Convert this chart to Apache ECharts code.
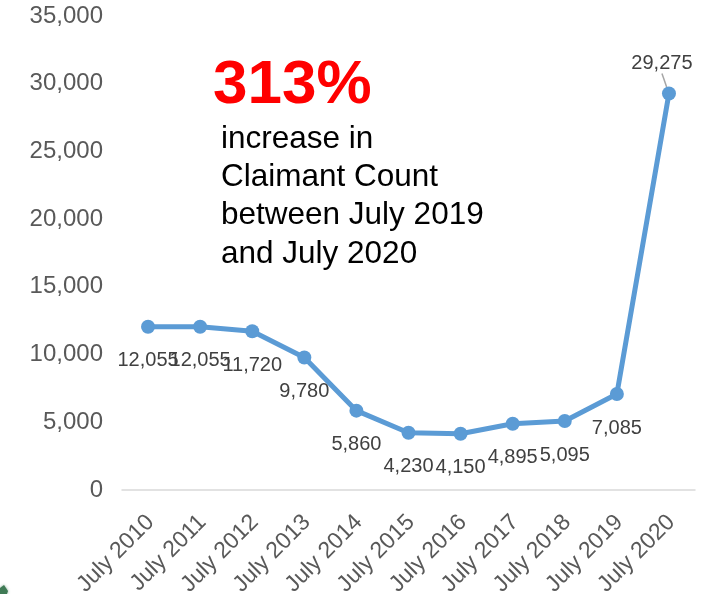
<!DOCTYPE html>
<html>
<head>
<meta charset="utf-8">
<script src="https://cdn.jsdelivr.net/npm/echarts@6/dist/echarts.min.js"></script>
<style>
  html, body { margin: 0; padding: 0; background: #ffffff; }
  #chart { width: 702px; height: 594px; }
</style>
</head>
<body>
<div id="chart"></div>
<script>
// Claimant Count, July of each year
const categories = ['July 2010', 'July 2011', 'July 2012', 'July 2013', 'July 2014', 'July 2015',
                    'July 2016', 'July 2017', 'July 2018', 'July 2019', 'July 2020'];
const claimantCount = [12055, 12055, 11720, 9780, 5860, 4230, 4150, 4895, 5095, 7085, 29275];
const yTicks = { min: 0, max: 35000, interval: 5000 };

const headline = '313%';
const noteLines = ['increase in', 'Claimant Count', 'between July 2019', 'and July 2020'];

const FONT = '"Liberation Sans", Arial, sans-serif';
const lastIndex = claimantCount.length - 1;

const chart = echarts.init(document.getElementById('chart'), null, { renderer: 'canvas' });

const noteElements = noteLines.map((line, i) => ({
  type: 'text',
  left: 221,
  top: 123 + i * 38.3,
  style: { text: line, font: '31.5px ' + FONT, fill: '#000000' }
}));

// the 2020 point carries its label above, with a short leader line
const seriesData = claimantCount.map((v, i) => i === lastIndex
  ? {
      value: v,
      label: { position: 'top', distance: 3 },
      labelLine: { show: true, lineStyle: { color: '#a6a6a6', width: 1.5 } }
    }
  : v);

chart.setOption({
  animation: false,
  backgroundColor: '#ffffff',
  grid: { left: 122, right: 7, top: 16, bottom: 104, containLabel: false, outerBoundsMode: 'none' },
  xAxis: {
    type: 'category',
    data: categories,
    boundaryGap: true,
    axisLine: { show: true, lineStyle: { color: '#d9d9d9', width: 1.5 } },
    axisTick: { show: false },
    axisLabel: {
      rotate: 45,
      margin: 15,
      align: 'right',
      verticalAlign: 'top',
      padding: [0, 8, 0, 0],
      color: '#595959',
      fontFamily: FONT,
      fontSize: 23,
      interval: 0
    }
  },
  yAxis: {
    type: 'value',
    min: yTicks.min,
    max: yTicks.max,
    interval: yTicks.interval,
    axisLine: { show: false },
    axisTick: { show: false },
    splitLine: { show: false },
    axisLabel: {
      margin: 19,
      color: '#595959',
      fontFamily: FONT,
      fontSize: 24,
      formatter: v => v.toLocaleString('en-US')
    }
  },
  series: [{
    type: 'line',
    data: seriesData,
    symbol: 'circle',
    symbolSize: 14,
    lineStyle: { color: '#5b9bd5', width: 5 },
    itemStyle: { color: '#5b9bd5' },
    label: {
      show: true,
      position: 'bottom',
      distance: 17,
      color: '#404040',
      fontFamily: FONT,
      fontSize: 20,
      formatter: p => p.value.toLocaleString('en-US')
    },
    labelLine: { show: false },
    labelLayout: params => params.dataIndex === lastIndex ? { dx: -7, dy: -10 } : {}
  }],
  graphic: [
    {
      type: 'text',
      left: 213,
      top: 55,
      style: {
        text: headline,
        font: 'bold 62px ' + FONT,
        fill: '#ff0000',
        shadowColor: 'rgba(0,0,0,0.25)',
        shadowBlur: 3,
        shadowOffsetX: 1,
        shadowOffsetY: 1
      }
    },
    ...noteElements,
    {
      type: 'polygon',
      shape: { points: [[0, 594], [0, 588], [4, 585], [8, 591], [7, 594]] },
      style: { fill: '#3f7a55', shadowColor: 'rgba(63,122,85,0.6)', shadowBlur: 3 }
    }
  ]
});
</script>
</body>
</html>
